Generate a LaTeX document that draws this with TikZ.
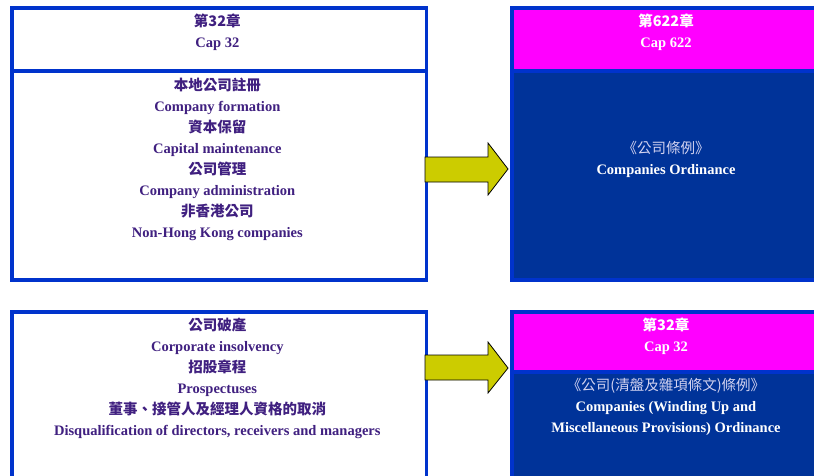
\documentclass[tikz,border=0pt]{standalone}
\usepackage{fontspec}
\setmainfont{Liberation Serif}
\newfontfamily\cjk{Noto Sans CJK TC}
\definecolor{bordblue}{RGB}{0,51,204}
\definecolor{darkfill}{RGB}{0,51,153}
\definecolor{magfill}{RGB}{255,0,255}
\definecolor{arrowfill}{RGB}{204,204,0}
\definecolor{txtpurple}{RGB}{64,32,128}
\definecolor{lighttxt}{RGB}{210,210,240}
\begin{document}
\begin{tikzpicture}[x=1pt,y=-1pt,
  boxline/.style={draw=bordblue,line width=3.5pt,anchor=north west,inner sep=0pt},
  txt/.style={align=center,font=\fontsize{14.5}{21}\selectfont\bfseries,inner sep=0pt},
  bigarrow/.style={draw=black,fill=arrowfill,line width=0.8pt,line join=miter}]
\useasboundingbox (0,0) rectangle (814,475);
% top left
\node[boxline,fill=white,minimum width=414.5pt,minimum height=63pt] (tlh) at (10,6) {};
\node[boxline,fill=white,minimum width=414.5pt,minimum height=209pt] (tlb) at (10,69) {};
% top right
\node[boxline,fill=magfill,minimum width=312pt,minimum height=63pt] (trh) at (510.3,6) {};
\node[boxline,fill=darkfill,minimum width=312pt,minimum height=209pt] (trb) at (510.3,69) {};
% bottom left
\node[boxline,fill=white,minimum width=414.5pt,minimum height=175pt] (blb) at (10,310) {};
% bottom right
\node[boxline,fill=magfill,minimum width=312pt,minimum height=60pt] (brh) at (510.3,310) {};
\node[boxline,fill=darkfill,minimum width=312pt,minimum height=115pt] (brb) at (510.3,370) {};
% texts
\node[txt,text=txtpurple] (t1) at (217.3,32) {{\cjk 第32章}\\Cap 32};
\node[txt,text=txtpurple] (t2) at (217.3,159) {{\cjk 本地公司註冊}\\Company formation\\{\cjk 資本保留}\\Capital maintenance\\{\cjk 公司管理}\\Company administration\\{\cjk 非香港公司}\\Non-Hong Kong companies};
\node[txt,text=white] (t3) at (666,32) {{\cjk 第622章}\\Cap 622};
\node[txt,text=white] (t4) at (666,159) {{\cjk\mdseries\color{lighttxt}《公司條例》}\\Companies Ordinance};
\node[txt,text=txtpurple] (t5) at (217.3,378.5) {{\cjk 公司破產}\\Corporate insolvency\\{\cjk 招股章程}\\Prospectuses\\{\cjk 董事、接管人及經理人資格的取消}\\Disqualification of directors, receivers and managers};
\node[txt,text=white] (t6) at (666,336.5) {{\cjk 第32章}\\Cap 32};
\node[txt,text=white] (t7) at (666,407) {{\cjk\mdseries\color{lighttxt}《公司(清盤及雜項條文)條例》}\\Companies (Winding Up and\\Miscellaneous Provisions) Ordinance};
% arrows
\coordinate (a1t) at (508,169);
\coordinate (a2t) at (508,368);
\draw[bigarrow] (425,157) -- (488,157) -- (488,143) -- (a1t) -- (488,195) -- (488,182) -- (425,182) -- cycle;
\draw[bigarrow] (425,355) -- (488,355) -- (488,342) -- (a2t) -- (488,393) -- (488,380) -- (425,380) -- cycle;
\end{tikzpicture}
\end{document}
